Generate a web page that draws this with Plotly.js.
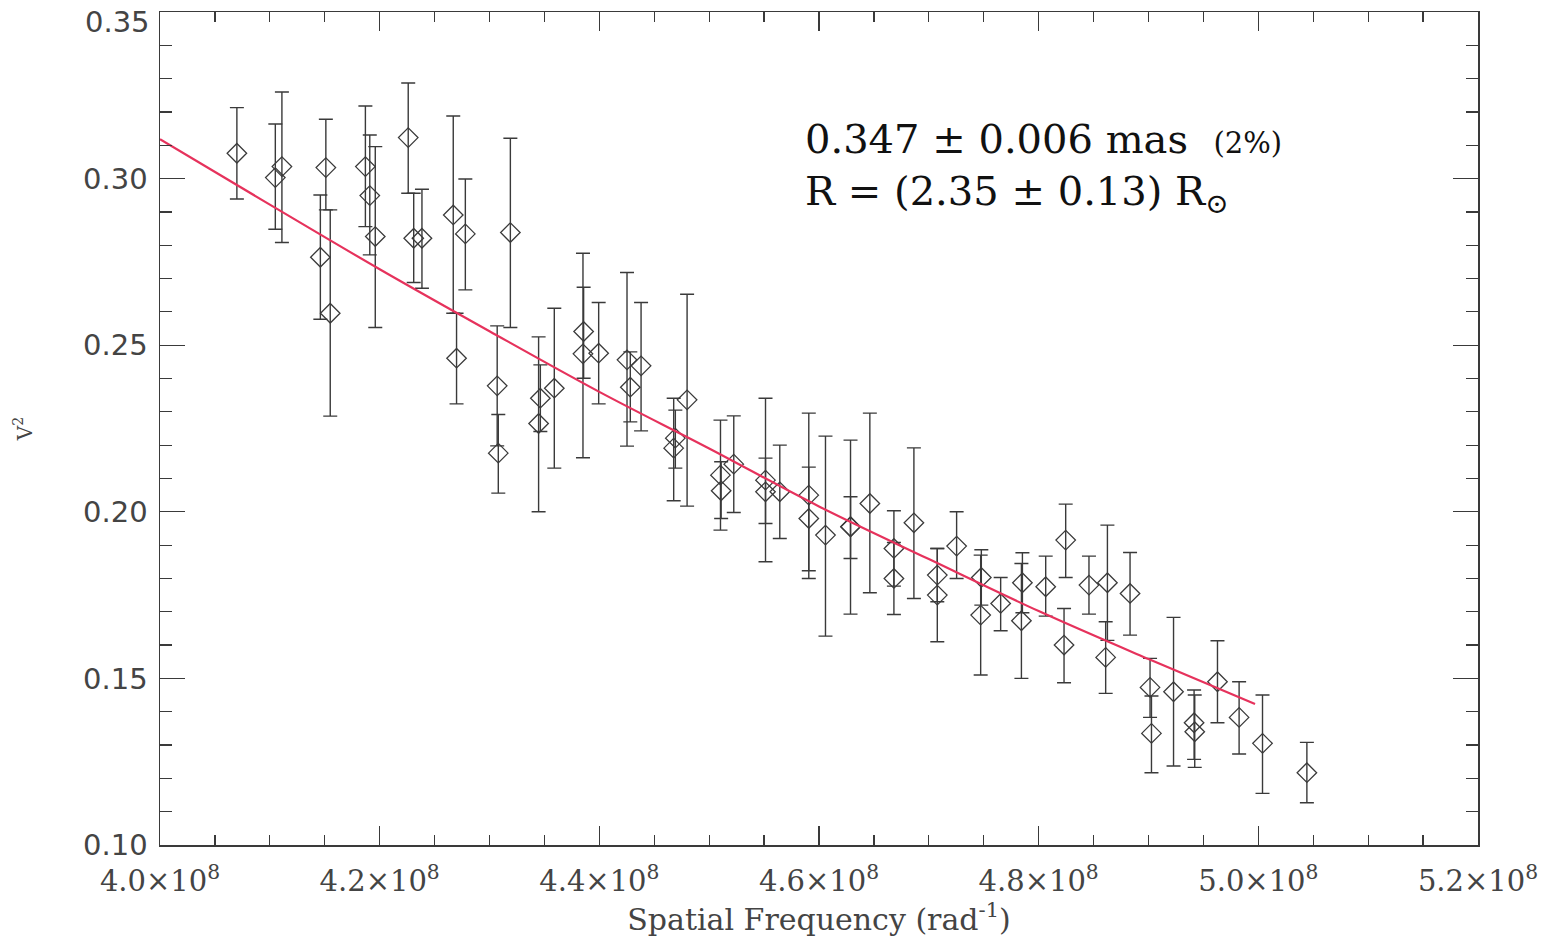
<!DOCTYPE html>
<html>
<head>
<meta charset="utf-8">
<script src="https://cdn.plot.ly/plotly-3.0.1.min.js"></script>
<style>html,body{margin:0;padding:0;background:#fff;}#chart{width:1556px;height:944px;}</style>
</head>
<body>
<div id="chart"></div>
<script>
// Spatial frequency (rad^-1)
const freq = [4.070e8,4.105e8,4.111e8,4.146e8,4.151e8,4.155e8,4.187e8,4.191e8,4.196e8,4.226e8,
  4.231e8,4.2385e8,4.267e8,4.270e8,4.278e8,4.319e8,4.307e8,4.308e8,4.3463e8,4.3447e8,
  4.359e8,4.3857e8,4.3851e8,4.3994e8,4.4252e8,4.4282e8,4.438e8,4.4799e8,4.4677e8,4.4692e8,
  4.5103e8,4.5109e8,4.5224e8,4.5513e8,4.5513e8,4.5643e8,4.5907e8,4.5907e8,4.6059e8,4.6287e8,
  4.6287e8,4.6463e8,4.6682e8,4.6682e8,4.6864e8,4.7077e8,4.7077e8,4.7253e8,4.7478e8,4.7472e8,
  4.7654e8,4.7852e8,4.7843e8,4.8064e8,4.8246e8,4.8231e8,4.8458e8,4.8626e8,4.8610e8,4.8832e8,
  4.9014e8,4.9027e8,4.9228e8,4.9415e8,4.9421e8,4.9628e8,4.9825e8,5.0038e8,5.0442e8];
// Squared visibility
const v2 = [0.3076,0.3003,0.3036,0.2764,0.3033,0.2596,0.3036,0.2949,0.2826,0.3123,
  0.2821,0.2821,0.2891,0.2461,0.2834,0.2838,0.2378,0.2176,0.2341,0.2265,
  0.2371,0.2541,0.2474,0.2476,0.2456,0.2374,0.2438,0.2336,0.2191,0.2221,
  0.2110,0.2063,0.2143,0.2095,0.2060,0.2060,0.2050,0.1980,0.1930,0.1955,
  0.1955,0.2025,0.1890,0.1800,0.1967,0.1810,0.1750,0.1897,0.1803,0.1690,
  0.1725,0.1787,0.1673,0.1775,0.1915,0.1600,0.1780,0.1787,0.1563,0.1755,
  0.1473,0.1335,0.1460,0.1367,0.1340,0.1490,0.1383,0.1305,0.1217];
const errPlus = [0.0137,0.0161,0.0224,0.0187,0.0145,0.0310,0.0182,0.0182,0.0270,0.0164,
  0.0135,0.0147,0.0297,0.0135,0.0165,0.0283,0.0180,0.0116,0.0100,0.0260,
  0.0240,0.0133,0.0302,0.0152,0.0262,0.0106,0.0190,0.0317,0.0150,0.0084,
  0.0165,0.0087,0.0145,0.0246,0.0101,0.0140,0.0246,0.0154,0.0297,0.0260,
  0.0090,0.0271,0.0113,0.0108,0.0225,0.0080,0.0140,0.0103,0.0083,0.0180,
  0.0078,0.0090,0.0172,0.0092,0.0108,0.0110,0.0087,0.0173,0.0107,0.0123,
  0.0087,0.0112,0.0223,0.0098,0.0110,0.0123,0.0107,0.0145,0.0091];
const errMinus = [0.0137,0.0155,0.0228,0.0186,0.0127,0.0309,0.0180,0.0178,0.0273,0.0167,
  0.0133,0.0150,0.0295,0.0137,0.0168,0.0285,0.0180,0.0120,0.0100,0.0265,
  0.0240,0.0140,0.0312,0.0152,0.0259,0.0104,0.0195,0.0319,0.0158,0.0090,
  0.0165,0.0083,0.0145,0.0245,0.0095,0.0140,0.0250,0.0157,0.0303,0.0262,
  0.0095,0.0268,0.0113,0.0108,0.0227,0.0080,0.0140,0.0097,0.0083,0.0180,
  0.0082,0.0090,0.0173,0.0088,0.0112,0.0113,0.0087,0.0173,0.0108,0.0125,
  0.0090,0.0118,0.0223,0.0110,0.0107,0.0123,0.0110,0.0150,0.0090];
// Fitted model curve
const fitFreq = [4.0e8,4.1e8,4.2e8,4.3e8,4.4e8,4.5e8,4.6e8,4.7e8,4.8e8,4.9e8,4.997e8];
const fitV2 = [0.3118,0.2922,0.2728,0.2542,0.2360,0.2190,0.2016,0.1858,0.1702,0.1558,0.1423];
// Axis ticks
const xTickVals = [4.0e8,4.2e8,4.4e8,4.6e8,4.8e8,5.0e8,5.2e8];
const xTickText = ['4.0×10<sup>8</sup>','4.2×10<sup>8</sup>','4.4×10<sup>8</sup>','4.6×10<sup>8</sup>','4.8×10<sup>8</sup>','5.0×10<sup>8</sup>','5.2×10<sup>8</sup>'];
const yTickVals = [0.10,0.15,0.20,0.25,0.30,0.35];
const yTickText = ['0.10','0.15','0.20','0.25','0.30',''];
const yTopLabel = '0.35';   // drawn just below the frame top so it is not clipped
const line1 = '0.347 ± 0.006 mas  <span style="font-size:29px">(2%)</span>';
const line2 = 'R = (2.35 ± 0.13) R<sub>⊙</sub>';

const ink = '#3a3a3a';
const traces = [
  {
    x: freq, y: v2, type: 'scatter', mode: 'markers',
    marker: {symbol: 'diamond-open', size: 15, color: ink, line: {width: 1.3, color: ink}},
    error_y: {type: 'data', symmetric: false, array: errPlus, arrayminus: errMinus,
      color: ink, thickness: 1.4, width: 7},
    showlegend: false, hoverinfo: 'x+y'
  },
  {
    x: fitFreq, y: fitV2, type: 'scatter', mode: 'lines',
    line: {color: '#e6325c', width: 2.2, shape: 'spline'},
    showlegend: false
  }
];

const layout = {
  width: 1556, height: 944,
  margin: {l: 160, r: 78, t: 12, b: 99},
  paper_bgcolor: '#ffffff', plot_bgcolor: '#ffffff',
  xaxis: {
    range: [4.0e8, 5.2e8], tickmode: 'array', tickvals: xTickVals, ticktext: xTickText,
    ticks: 'inside', ticklen: 19, tickwidth: 1.3, tickcolor: ink,
    minor: {dtick: 0.05e8, tick0: 4.0e8, ticks: 'inside', ticklen: 10, tickwidth: 1.2, tickcolor: ink, showgrid: false},
    showline: true, linecolor: ink, linewidth: 1.5, mirror: 'ticks',
    showgrid: false, zeroline: false,
    ticklabelstandoff: 10, ticklabeloverflow: 'allow',
    tickfont: {family: 'DejaVu Serif', size: 29, color: '#444'},
    title: {text: 'Spatial Frequency (rad<sup>-1</sup>)', font: {family: 'DejaVu Serif', size: 30, color: '#444'}, standoff: 10}
  },
  yaxis: {
    range: [0.10, 0.35], tickmode: 'array', tickvals: yTickVals, ticktext: yTickText,
    ticks: 'inside', ticklen: 25, tickwidth: 1.3, tickcolor: ink,
    minor: {dtick: 0.01, tick0: 0.10, ticks: 'inside', ticklen: 12, tickwidth: 1.2, tickcolor: ink, showgrid: false},
    showline: true, linecolor: ink, linewidth: 1.5, mirror: 'ticks',
    showgrid: false, zeroline: false,
    ticklabelstandoff: 5, ticklabeloverflow: 'allow',
    tickfont: {family: 'DejaVu Sans', size: 29, color: '#444'},
    title: {text: 'V<sup>2</sup>', font: {family: 'DejaVu Serif', size: 20, color: '#444'}, standoff: 45}
  },
  annotations: [
    {xref: 'paper', yref: 'paper', x: 0, y: 1, xanchor: 'right', yanchor: 'top',
      xshift: -8, yshift: 9, text: yTopLabel, showarrow: false,
      font: {family: 'DejaVu Sans', size: 29, color: '#444'}},
    {xref: 'paper', yref: 'paper', x: 0.4879, y: 0.848, xanchor: 'left', yanchor: 'middle',
      text: line1, showarrow: false, font: {family: 'DejaVu Serif', size: 40, color: '#111'}},
    {xref: 'paper', yref: 'paper', x: 0.4879, y: 0.782, xanchor: 'left', yanchor: 'middle',
      text: line2, showarrow: false, font: {family: 'DejaVu Serif', size: 40, color: '#111'}}
  ]
};

Plotly.newPlot('chart', traces, layout, {displayModeBar: false, staticPlot: true});
</script>
</body>
</html>
